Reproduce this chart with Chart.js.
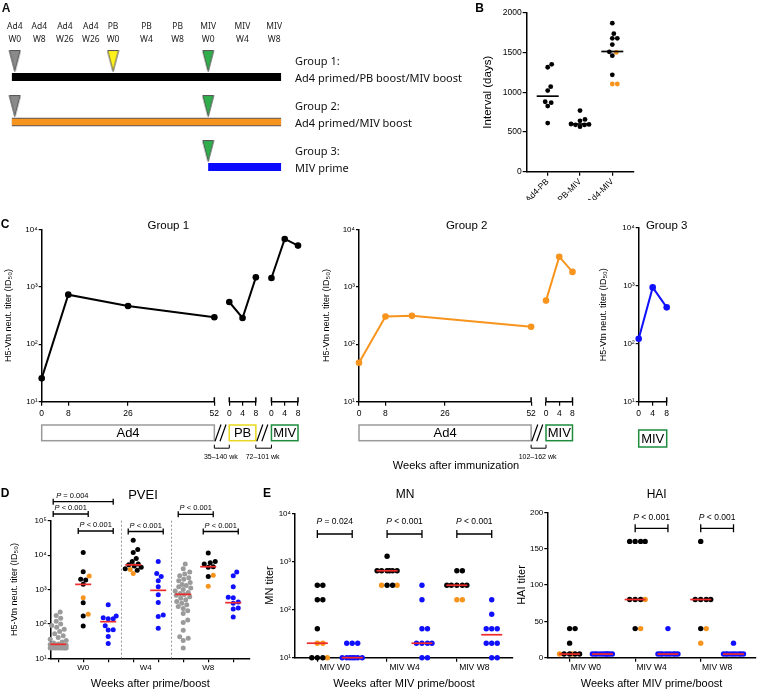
<!DOCTYPE html>
<html>
<head>
<meta charset="utf-8">
<title>H5 vaccination figure</title>
<script src="https://cdn.jsdelivr.net/npm/chart.js@4.4.1/dist/chart.umd.min.js"></script>
<style>
  html, body { margin: 0; padding: 0; background: #fff; }
  #fig { position: relative; width: 768px; height: 697px; overflow: hidden; }
  #fig canvas { position: absolute; left: 0; top: 0; }
</style>
</head>
<body>
<div id="fig">
  <canvas id="chartA" width="768" height="697"></canvas>
  <canvas id="chartB" width="768" height="697"></canvas>
  <canvas id="chartC1" width="768" height="697"></canvas>
  <canvas id="chartC2" width="768" height="697"></canvas>
  <canvas id="chartC3" width="768" height="697"></canvas>
  <canvas id="chartD" width="768" height="697"></canvas>
  <canvas id="chartMN" width="768" height="697"></canvas>
  <canvas id="chartHAI" width="768" height="697"></canvas>
</div>
<script>
// ---- A: study design ----
const aTimepoints = [['Ad4', 'W0'], ['Ad4', 'W8'], ['Ad4', 'W26'], ['Ad4', 'W26'], ['PB', 'W0'], ['PB', 'W4'], ['PB', 'W8'], ['MIV', 'W0'], ['MIV', 'W4'], ['MIV', 'W8']];
const aGroupNames = ['Group 1:', 'Group 2:', 'Group 3:'];
const aGroupRegimens = ['Ad4 primed/PB boost/MIV boost', 'Ad4 primed/MIV boost', 'MIV prime'];
const aGroupStart = [0, 0, 7];                  // timepoint where the bar starts
const aGroupDoses = [[0, 4, 7], [0, 7], [7]];   // timepoints with a vaccination

// ---- B: interval between vaccinations (days) ----
const bLabels = ['Ad4-PB', 'PB-MIV', 'Ad4-MIV'];
const bGroup1 = [[1314, 1351, 1021, 1070, 880, 826, 868, 612], [769, 657, 640, 600, 595, 590, 588, 566], [1868, 1736, 1678, 1678, 1599, 1508, 1459, 1219]];
const bGroup2 = [[], [], [1500, 1103, 1103]];
const bMedians = [950, 600, 1512];

// ---- C: neutralizing titer over time ----
const cAd4Weeks = [0, 8, 26, 52];
const cBoostWeeks = [0, 4, 8];
const cG1Ad4 = [25.5, 729, 462, 294];
const cG1PB = [543, 286, 1459];
const cG1MIV = [1422, 6790, 5200];
const cG2Ad4Weeks = [0, 8, 16, 52];
const cG2Ad4 = [47.7, 304, 312, 202];
const cG2MIV = [574, 3336, 1815];
const cG3MIV = [122, 935, 423];

// ---- D: PVEI ----
const dTimes = ['W0', 'W4', 'W8'];
const dGreyW0 = [20, 20, 20, 20, 20, 20, 20, 20, 21, 21, 21, 22, 22, 23, 24, 25, 26, 28, 30, 33, 36, 40, 45, 52, 60, 70, 80, 90, 100, 120, 145, 175, 220];
const dGroup1W0 = [12000, 3300, 2000, 1900, 1410, 414, 170, 87];
const dGroup2W0 = [2470, 580, 190];
const dGroup3W0 = [363, 170, 151, 142, 140, 89, 68, 67, 43, 27];
const dGroup1W4 = [27000, 14500, 12000, 8000, 6500, 5500, 5200, 4800, 4400, 4000, 3600];
const dGroup2W4 = [2900, 3800];
const dGroup3W4 = [6500, 2900, 2400, 1800, 1200, 700, 420, 180, 165, 75];
const dGreyW8 = [5500, 4000, 3200, 2800, 2500, 2200, 2000, 1800, 1600, 1400, 1300, 1200, 1100, 1000, 900, 820, 760, 720, 680, 620, 560, 500, 450, 400, 360, 320, 280, 240, 200, 130, 110, 65, 42, 38, 33, 20];
const dGroup1W8 = [11500, 6500, 6000, 5500, 4600, 4400, 2400];
const dGroup2W8 = [2600, 1250];
const dGroup3W8 = [3200, 2500, 1200, 600, 580, 430, 400, 290, 270, 160];
const dMedians = [25.5, 1410, 116, 5200, 946, 724, 4600, 414];
const dPValues = [[0, 2, '= 0.004'], [0, 1, '< 0.001'], [1, 2, '< 0.001'], [3, 4, '< 0.001'], [5, 6, '< 0.001'], [6, 7, '< 0.001']];

// ---- E: MN and HAI ----
const eTimes = ['MIV W0', 'MIV W4', 'MIV W8'];
const mnGroup1 = [[320, 320, 160, 160, 40, 10, 10, 10], [1280, 640, 640, 640, 640, 640, 640, 320, 320], [640, 640, 320, 320, 320, 320, 320]];
const mnGroup2 = [[20, 20, 10], [320, 320], [160, 160]];
const mnGroup3 = [[20, 20, 20, 10, 10, 10, 10, 10, 10, 10], [320, 160, 40, 40, 20, 20, 20, 20, 10, 10], [160, 80, 40, 40, 40, 20, 20, 20, 10, 10]];
const mnMedians = [20, 10, 640, 20, 320, 30];
const mnPValues = ['= 0.024', '< 0.001', '< 0.001'];
const haiGroup1 = [[40, 40, 20, 5, 5, 5, 5], [160, 160, 160, 160, 80, 80, 80, 40], [160, 80, 80, 80, 80, 40]];
const haiGroup2 = [[5, 5], [80, 40], [40, 20]];
const haiGroup3 = [[5, 5, 5, 5, 5, 5, 5, 5, 5, 5], [40, 5, 5, 5, 5, 5, 5, 5, 5, 5], [20, 5, 5, 5, 5, 5, 5, 5, 5, 5]];
const haiMedians = [5, 5, 80, 5, 80, 5];
const haiPValues = [null, '< 0.001', '< 0.001'];

// ---------- styling helpers ----------
const FONT = "'Liberation Sans', Arial, sans-serif";
Chart.defaults.font.family = FONT;
Chart.defaults.color = '#000';
const BLACK = '#000000', ORANGE = '#f7941d', BLUE = '#1010ff', GREY = '#9b9b9b', RED = '#ef2a2a';
const font = (size, style) => (style ? style + ' ' : '') + size + 'px ' + FONT;
const el = id => document.getElementById(id);
const SUP = ['⁰', '¹', '²', '³', '⁴', '⁵'];
const pow10 = v => '10' + SUP[Math.round(Math.log10(v))];
const fixTicks = vals => s => { s.ticks = vals.map(v => ({value: v})); };
const tickGrid = len => ({display: true, drawOnChartArea: false, drawTicks: true, tickLength: len, color: BLACK, lineWidth: 1.2});
const noGrid = {display: false, drawTicks: false};

function base(o) {
  return Object.assign({responsive: false, animation: false, events: [],
    plugins: {legend: {display: false}, tooltip: {enabled: false}}}, o);
}

function logY(max, left, padLeft, title, titleSize) {
  const decades = [];
  for (let v = 10; v <= max; v *= 10) decades.push(v);
  return {
    type: 'logarithmic', min: 10, max: max,
    afterBuildTicks: fixTicks(decades),
    afterFit: s => { s.width = left - padLeft; },
    ticks: {callback: v => pow10(v), font: {size: 8}, padding: 1, autoSkip: false},
    grid: tickGrid(3),
    border: {display: true, color: BLACK, width: 1.5},
    title: {display: true, text: title, font: {size: titleSize}, padding: 0}
  };
}

function dots(color, pts, r) {
  return {type: 'scatter', data: pts, swarm: true, pointRadius: r, backgroundColor: color,
    borderColor: color, pointBorderWidth: 0, clip: false};
}

function medianLine(pts, half, color) {
  return {type: 'scatter', data: pts, pointStyle: 'line', pointRadius: half,
    borderColor: color, pointBorderColor: color, pointBorderWidth: 1.7, clip: false};
}

function addPts(arr, vals, c) { vals.forEach(v => arr.push({x: c, y: v, c: c})); }

// free text drawn at page coordinates
function texts(items) {
  return {
    id: 'texts',
    afterDraw(chart) {
      const ctx = chart.ctx;
      ctx.save();
      ctx.fillStyle = '#000';
      ctx.textBaseline = 'middle';
      items.forEach(([t, x, y, f, align]) => {
        ctx.font = f;
        ctx.textAlign = align || 'center';
        ctx.fillText(t, x, y);
      });
      ctx.restore();
    }
  };
}

// bracket with an italic P label
function drawBracket(ctx, x1, x2, y, cap, label, dy, size, align) {
  ctx.save();
  ctx.strokeStyle = '#000';
  ctx.lineWidth = 1.3;
  ctx.beginPath();
  ctx.moveTo(x1, y); ctx.lineTo(x2, y);
  ctx.moveTo(x1, y - cap); ctx.lineTo(x1, y + cap);
  ctx.moveTo(x2, y - cap); ctx.lineTo(x2, y + cap);
  ctx.stroke();
  ctx.fillStyle = '#000';
  ctx.textBaseline = 'middle';
  ctx.textAlign = 'left';
  ctx.font = font(size, 'italic');
  const w1 = ctx.measureText('P').width;
  ctx.font = font(size);
  const w2 = ctx.measureText(' ' + label).width;
  const x0 = align === 'left' ? x1 + 3 : (x1 + x2) / 2 - (w1 + w2) / 2;
  ctx.font = font(size, 'italic');
  ctx.fillText('P', x0, y - dy);
  ctx.font = font(size);
  ctx.fillText(' ' + label, x0 + w1, y - dy);
  ctx.restore();
}

// spread dots of one category sideways so they do not sit on top of each other
function spread(chart, diam, maxHalf) {
  const xs = chart.scales.x, ys = chart.scales.y;
  const unit = xs.getPixelForValue(1) - xs.getPixelForValue(0);
  const groups = new Map();
  chart.data.datasets.forEach(ds => {
    if (!ds.swarm) return;
    ds.data.forEach(p => {
      if (!groups.has(p.c)) groups.set(p.c, []);
      groups.get(p.c).push(p);
    });
  });
  groups.forEach(pts => {
    const order = pts.map(p => ({p, py: ys.getPixelForValue(p.y)})).sort((a, b) => b.py - a.py);
    const placed = [];
    order.forEach(o => {
      let best = 0, bestD = -1;
      for (let k = 0; k <= maxHalf * 4; k++) {
        const off = (k % 2 ? 1 : -1) * Math.ceil(k / 2) * 0.5;
        let minD = Infinity;
        placed.forEach(q => { minD = Math.min(minD, Math.hypot(q.x - off, q.y - o.py)); });
        if (minD >= diam) { best = off; break; }
        if (minD > bestD + 0.05) { bestD = minD; best = off; }
      }
      placed.push({x: best, y: o.py});
      o.p.x = o.p.c + best / unit;
    });
  });
  chart.data.datasets.forEach(ds => { if (ds.swarm) ds.data = ds.data.slice(); });
  chart.update('none');
}

// ================= A =================
const tpPos = [0, 0.85, 1.74, 2.64, 3.41, 4.57, 5.65, 6.71, 7.9, 9.0];
function triangle(color) {
  const c = document.createElement('canvas');
  c.width = 13; c.height = 24;
  const g = c.getContext('2d');
  g.beginPath();
  g.moveTo(1, 1.5); g.lineTo(12, 1.5); g.lineTo(6.5, 22.5); g.closePath();
  g.fillStyle = color; g.fill();
  g.strokeStyle = '#4d4d4d'; g.lineWidth = 1; g.stroke();
  return c;
}
const triangles = {Ad4: triangle('#8a8a8a'), PB: triangle('#fff21c'), MIV: triangle('#2fae4b')};
const doseMarks = [];
aGroupDoses.forEach((list, g) => list.forEach(t => doseMarks.push({x: tpPos[t], y: g + 0.645, kind: aTimepoints[t][0]})));

const barColors = [BLACK, ORANGE, '#0a0aff'];
const barSets = [];
aGroupNames.forEach((n, g) => {
  const pts = [{x: tpPos[aGroupStart[g]] - (aGroupStart[g] ? 0 : 0.1), y: g + 1}, {x: 9.24, y: g + 1}];
  barSets.push({type: 'scatter', showLine: true, data: pts, borderColor: barColors[g],
    borderWidth: g === 1 ? 6.5 : 8, pointRadius: 0, clip: false});
  if (g === 1) {
    barSets.push({type: 'scatter', showLine: true, data: pts, borderColor: '#5a5a5a',
      borderWidth: 8.5, pointRadius: 0, clip: false});
  }
});

new Chart(el('chartA'), {
  type: 'scatter',
  data: {datasets: [
    {type: 'scatter', data: doseMarks, pointStyle: c => triangles[c.raw.kind], pointRadius: 8, clip: false},
    ...barSets
  ]},
  options: base({
    layout: {padding: {left: 4.1, top: 0, right: 768 - 282.8, bottom: 697 - 198.5}},
    scales: {
      x: {type: 'linear', position: 'top', min: -0.2, max: 9.3,
        afterBuildTicks: fixTicks(tpPos),
        afterFit: s => { s.height = 45.5; },
        ticks: {callback: (v, i) => aTimepoints[i], font: {size: 8.5, family: "'Noto Sans', sans-serif", lineHeight: 1.45},
          padding: 0, maxRotation: 0, autoSkip: false, color: '#222'},
        grid: noGrid, border: {display: false}},
      y: {type: 'linear', display: false, min: 0.3, max: 3.7, reverse: true}
    }
  }),
  plugins: [{
    id: 'groupText',
    afterDraw(chart) {
      const ctx = chart.ctx, ys = chart.scales.y;
      ctx.save();
      ctx.fillStyle = '#111';
      ctx.textBaseline = 'middle';
      ctx.textAlign = 'left';
      ctx.font = "11px 'Noto Sans', sans-serif";
      aGroupNames.forEach((n, g) => {
        const y = ys.getPixelForValue(g + 1);
        ctx.fillText(n, 295, y - 15);
        ctx.fillText(aGroupRegimens[g], 295, y + 2);
      });
      ctx.font = font(12, 'bold');
      ctx.textAlign = 'center';
      ctx.fillText('A', 6, 9);
      ctx.restore();
    }
  }]
});

// ================= B =================
const bBlackPts = [], bOrangePts = [];
bGroup1.forEach((vals, i) => addPts(bBlackPts, vals, i));
bGroup2.forEach((vals, i) => addPts(bOrangePts, vals, i));
const chartB = new Chart(el('chartB'), {
  type: 'scatter',
  data: {datasets: [
    medianLine(bMedians.map((v, i) => ({x: i, y: v})), 11, BLACK),
    dots(BLACK, bBlackPts, 2.4),
    dots(ORANGE, bOrangePts, 2.4)
  ]},
  options: base({
    layout: {padding: {left: 481.1, top: 10, right: 768 - 633.3, bottom: 697 - 200}},
    scales: {
      x: {type: 'linear', min: -0.65, max: 2.65, afterBuildTicks: fixTicks([0, 1, 2]),
        afterFit: s => { s.height = 200 - 171.7; },
        ticks: {callback: (v, i) => bLabels[i], minRotation: 45, maxRotation: 45, font: {size: 8.5}, padding: 1, autoSkip: false},
        grid: tickGrid(4), border: {color: BLACK, width: 1.5}},
      y: {type: 'linear', min: 0, max: 2000,
        afterFit: s => { s.width = 526.7 - 481.1; },
        ticks: {stepSize: 500, font: {size: 8.5}, padding: 1, callback: v => String(v)},
        grid: tickGrid(4), border: {color: BLACK, width: 1.5},
        title: {display: true, text: 'Interval (days)', font: {size: 11.5}, padding: 0}}
    }
  }),
  plugins: [texts([['B', 479.5, 9, font(12, 'bold')]])]
});
spread(chartB, 4.8, 9);

// ================= C =================
function timeline(cfg) {
  return {
    id: 'timeline',
    afterDraw(chart) {
      const ctx = chart.ctx, xs = chart.scales.x, y0 = chart.chartArea.bottom;
      const px = v => xs.getPixelForValue(v);
      const top = cfg.boxTop, bot = cfg.boxTop + cfg.boxH;
      ctx.save();
      ctx.strokeStyle = BLACK;
      ctx.lineWidth = 1.5;
      cfg.segments.forEach(([a, b, capA, capB]) => {
        ctx.beginPath();
        ctx.moveTo(px(a), y0); ctx.lineTo(px(b), y0);
        if (capA) { ctx.moveTo(px(a), y0 + 0.7); ctx.lineTo(px(a), y0 - 4.5); }
        if (capB) { ctx.moveTo(px(b), y0 + 0.7); ctx.lineTo(px(b), y0 - 4.5); }
        ctx.stroke();
      });
      ctx.textAlign = 'center';
      ctx.textBaseline = 'middle';
      cfg.boxes.forEach(([a, b, label, color]) => {
        ctx.fillStyle = '#fff';
        ctx.fillRect(px(a), top, px(b) - px(a), cfg.boxH);
        ctx.strokeStyle = color;
        ctx.lineWidth = 1.5;
        ctx.strokeRect(px(a), top, px(b) - px(a), cfg.boxH);
        ctx.fillStyle = '#000';
        ctx.font = font(13);
        ctx.fillText(label, (px(a) + px(b)) / 2, (top + bot) / 2 + 0.5);
      });
      (cfg.gaps || []).forEach(([a, b, label]) => {
        const xa = px(a), xb = px(b), m = (xa + xb) / 2;
        ctx.strokeStyle = BLACK;
        ctx.lineWidth = 1.2;
        ctx.beginPath();
        [-3.8, 1.2].forEach(d => { ctx.moveTo(m + d - 3, bot + 0.5); ctx.lineTo(m + d + 3, top - 0.5); });
        ctx.stroke();
        ctx.lineWidth = 1;
        ctx.beginPath();
        ctx.moveTo(xa, bot + 4); ctx.lineTo(xa, bot + 7.5); ctx.lineTo(xb, bot + 7.5); ctx.lineTo(xb, bot + 4);
        ctx.stroke();
        ctx.fillStyle = '#000';
        ctx.font = font(7);
        ctx.fillText(label, m - 1, bot + 16);
      });
      ctx.restore();
    }
  };
}

function lineSet(color, pts) {
  return {type: 'scatter', showLine: true, data: pts, borderColor: color, borderWidth: 2,
    pointRadius: 3.3, backgroundColor: color, pointBorderWidth: 0, clip: false};
}
const weekPts = (weeks, vals, shift) => vals.map((v, i) => ({x: weeks[i] + shift, y: v}));
const AD4_BOX = '#9a9a9a', PB_BOX = '#e8d71e', MIV_BOX = '#1e8c3c';
const TITLE_Y = 'H5-Vtn neut. titer (ID₅₀)';

function cXAxis(max, vals, labels) {
  return {type: 'linear', min: 0, max: max, afterBuildTicks: fixTicks(vals),
    afterFit: s => { s.height = 20; },
    ticks: {callback: (v, i) => labels[i], font: {size: 8.5}, padding: 3, maxRotation: 0, autoSkip: false},
    grid: tickGrid(4), border: {display: false}};
}

// Group 1
const PB0 = 56.5, MIV0_G1 = 69.2;
const c1Vals = [...cAd4Weeks, ...cBoostWeeks.map(w => w + PB0), ...cBoostWeeks.map(w => w + MIV0_G1)];
const c1Labels = [...cAd4Weeks, ...cBoostWeeks, ...cBoostWeeks];
new Chart(el('chartC1'), {
  type: 'scatter',
  data: {datasets: [
    lineSet(BLACK, weekPts(cAd4Weeks, cG1Ad4, 0)),
    lineSet(BLACK, weekPts(cBoostWeeks, cG1PB, PB0)),
    lineSet(BLACK, weekPts(cBoostWeeks, cG1MIV, MIV0_G1))
  ]},
  options: base({
    layout: {padding: {left: 3.6, top: 229.3, right: 768 - 300, bottom: 697 - 421.7}},
    scales: {
      x: cXAxis(77.8, c1Vals, c1Labels),
      y: logY(10000, 41.7, 3.6, TITLE_Y, 9)
    }
  }),
  plugins: [
    timeline({
      boxTop: 425, boxH: 15.7,
      segments: [[0, 52, false, true], [PB0, PB0 + 8, true, true], [MIV0_G1, MIV0_G1 + 8, true, true]],
      boxes: [[0, 52, 'Ad4', AD4_BOX], [PB0, PB0 + 8, 'PB', PB_BOX], [MIV0_G1, MIV0_G1 + 8, 'MIV', MIV_BOX]],
      gaps: [[52, PB0, '35–140 wk'], [PB0 + 8, MIV0_G1, '72–101 wk']]
    }),
    texts([['C', 5, 224.5, font(12, 'bold')], ['Group 1', 168.3, 226, font(11.5)]])
  ]
});

// Group 2
const MIV0_G2 = 56.5;
const c2Vals = [...cAd4Weeks, ...cBoostWeeks.map(w => w + MIV0_G2)];
const c2Labels = [...cAd4Weeks, ...cBoostWeeks];
new Chart(el('chartC2'), {
  type: 'scatter',
  data: {datasets: [
    lineSet(ORANGE, weekPts(cG2Ad4Weeks, cG2Ad4, 0)),
    lineSet(ORANGE, weekPts(cBoostWeeks, cG2MIV, MIV0_G2))
  ]},
  options: base({
    layout: {padding: {left: 321.3, top: 229.3, right: 768 - 575.3, bottom: 697 - 421.7}},
    scales: {
      x: cXAxis(65.35, c2Vals, c2Labels),
      y: logY(10000, 359, 321.3, TITLE_Y, 9)
    }
  }),
  plugins: [
    timeline({
      boxTop: 425, boxH: 15.7,
      segments: [[0, 52, false, true], [MIV0_G2, MIV0_G2 + 8, true, true]],
      boxes: [[0, 52, 'Ad4', AD4_BOX], [MIV0_G2, MIV0_G2 + 8, 'MIV', MIV_BOX]],
      gaps: [[52, MIV0_G2, '102–162 wk']]
    }),
    texts([['Group 2', 466.7, 226, font(11.5)], ['Weeks after immunization', 456, 465.7, font(11)]])
  ]
});

// Group 3
new Chart(el('chartC3'), {
  type: 'scatter',
  data: {datasets: [lineSet(BLUE, weekPts(cBoostWeeks, cG3MIV, 0))]},
  options: base({
    layout: {padding: {left: 597.9, top: 227.7, right: 768 - 666.7, bottom: 697 - 421.7}},
    scales: {
      x: cXAxis(8, cBoostWeeks, cBoostWeeks),
      y: logY(10000, 638.7, 597.9, TITLE_Y, 9)
    }
  }),
  plugins: [
    timeline({
      boxTop: 430, boxH: 17,
      segments: [[0, 8, false, true]],
      boxes: [[0, 8, 'MIV', MIV_BOX]]
    }),
    texts([['Group 3', 666.7, 226, font(11.5)]])
  ]
});

// ================= D =================
const dGreyPts = [], dBlackPts = [], dOrangePts = [], dBluePts = [];
addPts(dGreyPts, dGreyW0, 0); addPts(dBlackPts, dGroup1W0, 1); addPts(dOrangePts, dGroup2W0, 1); addPts(dBluePts, dGroup3W0, 2);
addPts(dBlackPts, dGroup1W4, 3); addPts(dOrangePts, dGroup2W4, 3); addPts(dBluePts, dGroup3W4, 4);
addPts(dGreyPts, dGreyW8, 5); addPts(dBlackPts, dGroup1W8, 6); addPts(dOrangePts, dGroup2W8, 6); addPts(dBluePts, dGroup3W8, 7);
const dLevels = [-19, -6.7, 10.3, 10.8, -6.4, 10.8];

const chartD = new Chart(el('chartD'), {
  type: 'scatter',
  data: {datasets: [
    medianLine(dMedians.map((v, i) => ({x: i, y: v})), 8, RED),
    dots(GREY, dGreyPts, 2.5),
    dots(BLACK, dBlackPts, 2.5),
    dots(ORANGE, dOrangePts, 2.5),
    dots(BLUE, dBluePts, 2.5)
  ]},
  options: base({
    layout: {padding: {left: 9.6, top: 520.7, right: 768 - 250, bottom: 6.5}},
    scales: {
      x: {type: 'linear', min: -0.3, max: 7.67, afterBuildTicks: fixTicks([0, 1, 2, 3, 4, 5, 6, 7]),
        afterFit: s => { s.height = 4; },
        ticks: {callback: () => '', autoSkip: false, maxRotation: 0},
        grid: tickGrid(4), border: {color: BLACK, width: 1.5}},
      x2: {type: 'linear', position: 'bottom', weight: 1, min: -0.3, max: 7.67,
        afterBuildTicks: fixTicks([1, 3.5, 6]),
        afterFit: s => { s.height = 28.2; },
        ticks: {callback: (v, i) => dTimes[i], font: {size: 8}, padding: 1, autoSkip: false, maxRotation: 0},
        grid: noGrid, border: {display: false},
        title: {display: true, text: 'Weeks after prime/boost', font: {size: 11}, padding: 0}},
      y: logY(100000, 50.7, 9.6, TITLE_Y, 9)
    }
  }),
  plugins: [
    {
      id: 'dMarks',
      afterDraw(chart) {
        const ctx = chart.ctx, xs = chart.scales.x, a = chart.chartArea;
        ctx.save();
        ctx.strokeStyle = '#9a9a9a';
        ctx.lineWidth = 1;
        ctx.setLineDash([2, 2]);
        [2.5, 4.5].forEach(v => {
          const x = Math.round(xs.getPixelForValue(v)) + 0.5;
          ctx.beginPath(); ctx.moveTo(x, a.top); ctx.lineTo(x, a.bottom); ctx.stroke();
        });
        ctx.restore();
        dPValues.forEach(([i, j, label], k) => {
          drawBracket(ctx, xs.getPixelForValue(i - 0.2), xs.getPixelForValue(j + 0.2), a.top + dLevels[k], 3,
            label, 6, 7.5, k === 0 ? 'left' : 'center');
        });
      }
    },
    texts([['D', 5, 494, font(12, 'bold')], ['PVEI', 143, 495.7, font(13)]])
  ]
});
spread(chartD, 5, 8);

// ================= E =================
function ePoints(g1, g2, g3) {
  const k = [], o = [], b = [];
  g1.forEach((vals, t) => addPts(k, vals, 2 * t));
  g2.forEach((vals, t) => addPts(o, vals, 2 * t));
  g3.forEach((vals, t) => addPts(b, vals, 2 * t + 1));
  return [dots(BLACK, k, 2.7), dots(ORANGE, o, 2.7), dots(BLUE, b, 2.7)];
}

function eXAxes(min, max, heightX2) {
  return {
    x: {type: 'linear', min: min, max: max, afterBuildTicks: fixTicks([0, 2, 4]),
      afterFit: s => { s.height = 4; },
      ticks: {callback: () => '', autoSkip: false, maxRotation: 0},
      grid: tickGrid(4), border: {color: BLACK, width: 1.5}},
    x2: {type: 'linear', position: 'bottom', weight: 1, min: min, max: max,
      afterBuildTicks: fixTicks([0.5, 2.5, 4.5]),
      afterFit: s => { s.height = heightX2; },
      ticks: {callback: (v, i) => eTimes[i], font: {size: 8.5}, padding: 1, autoSkip: false, maxRotation: 0},
      grid: noGrid, border: {display: false},
      title: {display: true, text: 'Weeks after MIV prime/boost', font: {size: 11}, padding: 0}}
  };
}

function ePBrackets(pvals, level, dy) {
  return {
    id: 'eBrackets',
    afterDraw(chart) {
      const xs = chart.scales.x, y = chart.chartArea.top + level;
      pvals.forEach((p, t) => {
        if (!p) return;
        drawBracket(chart.ctx, xs.getPixelForValue(2 * t), xs.getPixelForValue(2 * t + 1), y, 4, p, dy, 8.5);
      });
    }
  };
}

const mnAxes = eXAxes(-0.64, 5.61, 690.5 - 661.7);
mnAxes.y = logY(10000, 295, 263.4, 'MN titer', 11);
const chartMN = new Chart(el('chartMN'), {
  type: 'scatter',
  data: {datasets: [
    medianLine(mnMedians.map((v, i) => ({x: i, y: v})), 10.5, RED),
    ...ePoints(mnGroup1, mnGroup2, mnGroup3)
  ]},
  options: base({
    layout: {padding: {left: 263.4, top: 513.3, right: 768 - 513, bottom: 6.5}},
    scales: mnAxes
  }),
  plugins: [ePBrackets(mnPValues, 20.7, 12.3), texts([['E', 267, 494, font(12, 'bold')], ['MN', 405, 495, font(12)]])]
});
spread(chartMN, 5.2, 10);

const haiAxes = eXAxes(-0.68, 5.68, 690.5 - 661.7);
haiAxes.y = {type: 'linear', min: 0, max: 200,
  afterFit: s => { s.width = 547.3 - 515.1; },
  ticks: {stepSize: 50, font: {size: 8}, padding: 1},
  grid: tickGrid(3), border: {color: BLACK, width: 1.5},
  title: {display: true, text: 'HAI titer', font: {size: 11}, padding: 0}};
const chartHAI = new Chart(el('chartHAI'), {
  type: 'scatter',
  data: {datasets: [
    medianLine(haiMedians.map((v, i) => ({x: i, y: v})), 10.5, RED),
    ...ePoints(haiGroup1, haiGroup2, haiGroup3)
  ]},
  options: base({
    layout: {padding: {left: 515.1, top: 512.3, right: 768 - 766.7, bottom: 6.5}},
    scales: haiAxes
  }),
  plugins: [ePBrackets(haiPValues, 16, 11), texts([['HAI', 656.7, 494.3, font(12)]])]
});
spread(chartHAI, 5.2, 10);
</script>
</body>
</html>
